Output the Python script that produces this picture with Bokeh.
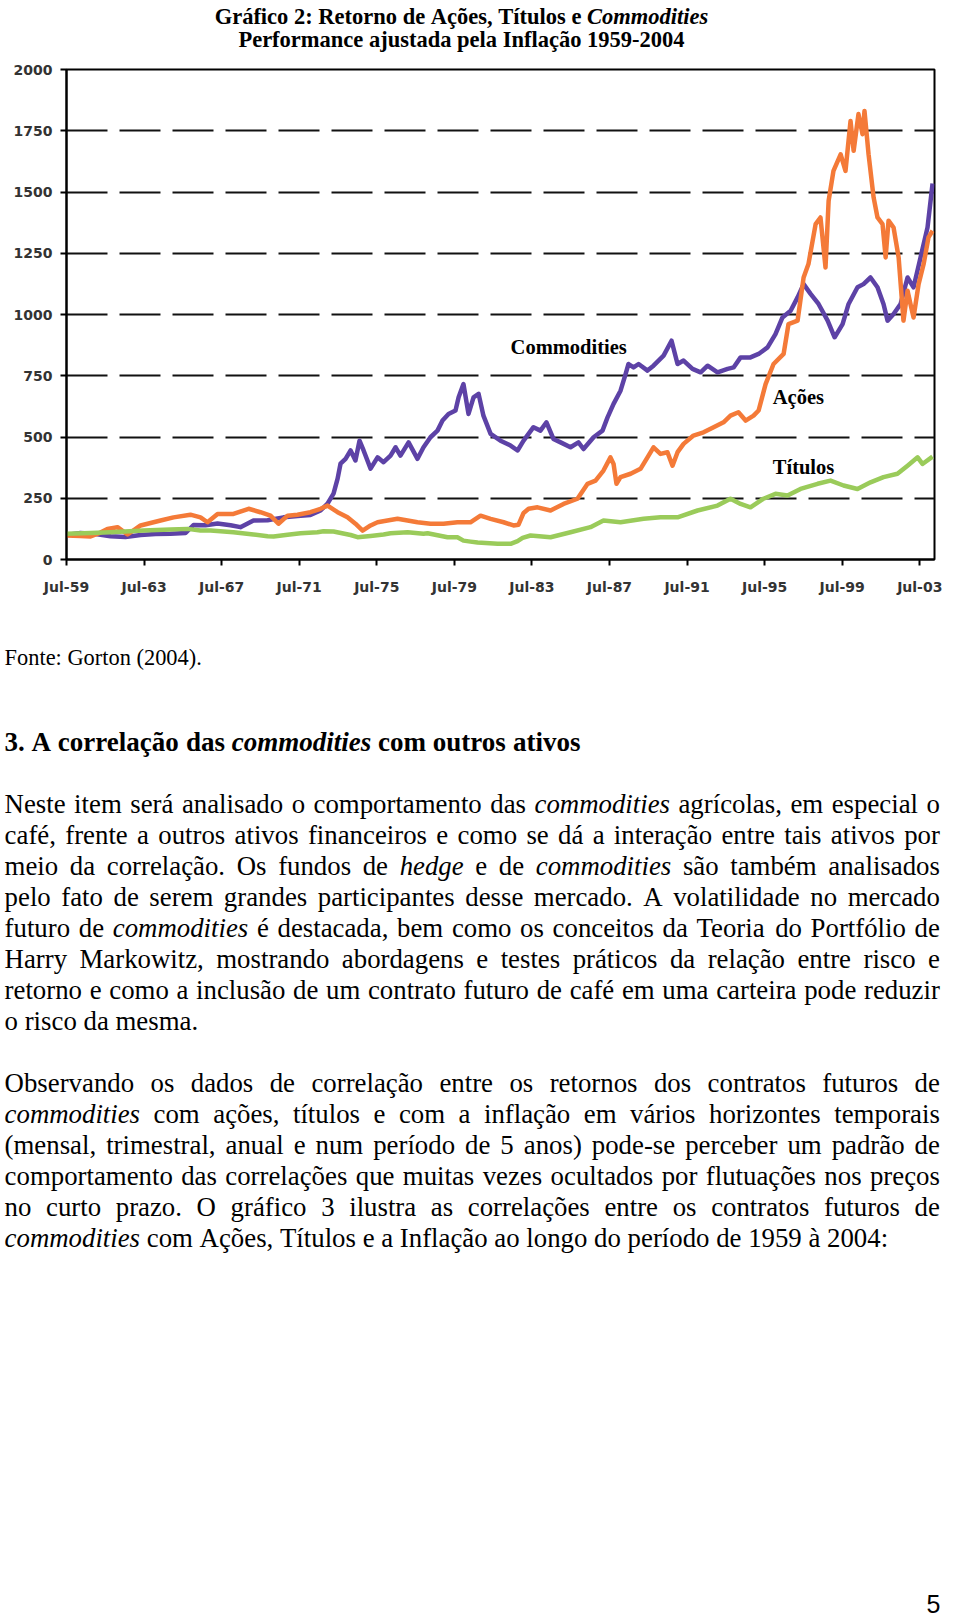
from bokeh.plotting import figure
from bokeh.models import Range1d, FixedTicker, ColumnDataSource
from bokeh.layouts import column
from bokeh.embed import file_html
from bokeh.resources import INLINE
from bokeh.core.properties import value

# ---------------- data ----------------
comm_years = [1959.50, 1960.22, 1961.00, 1961.77, 1962.54, 1963.32, 1964.09, 1964.86, 1965.64, 1966.05,
              1966.67, 1967.29, 1967.96, 1968.47, 1969.14, 1969.87, 1970.69, 1971.57, 1972.08, 1972.60,
              1972.96, 1973.27, 1973.48, 1973.63, 1973.89, 1974.15, 1974.40, 1974.61, 1974.82, 1975.18,
              1975.54, 1975.85, 1976.21, 1976.47, 1976.72, 1977.14, 1977.60, 1977.91, 1978.27, 1978.63,
              1978.89, 1979.20, 1979.56, 1979.72, 1979.97, 1980.23, 1980.49, 1980.75, 1981.00, 1981.37,
              1981.88, 1982.40, 1982.76, 1983.07, 1983.58, 1983.94, 1984.25, 1984.61, 1984.98, 1985.49,
              1985.90, 1986.16, 1986.68, 1987.14, 1987.40, 1987.71, 1988.07, 1988.33, 1988.48, 1988.74,
              1989.00, 1989.46, 1989.77, 1990.29, 1990.70, 1991.01, 1991.32, 1991.78, 1992.20, 1992.56,
              1993.07, 1993.59, 1993.90, 1994.26, 1994.77, 1995.19, 1995.65, 1996.06, 1996.42, 1996.84,
              1997.20, 1997.51, 1997.87, 1998.28, 1998.75, 1999.11, 1999.52, 1999.83, 2000.29, 2000.60,
              2000.96, 2001.32, 2001.63, 2001.84, 2002.15, 2002.51, 2002.87, 2003.18, 2003.54, 2003.90,
              2004.16]
comm_vals = [100, 108, 104, 95, 92, 100, 104, 105, 108, 141,
             140, 147, 140, 132, 159, 160, 172, 179, 182, 200,
             228, 269, 330, 391, 411, 445, 404, 485, 445, 371,
             417, 397, 424, 458, 424, 478, 411, 458, 499, 526,
             567, 594, 608, 662, 716, 594, 662, 676, 587, 513,
             485, 465, 445, 485, 540, 526, 560, 492, 478, 458,
             478, 451, 499, 526, 580, 635, 689, 757, 798, 784,
             798, 771, 791, 832, 893, 798, 812, 778, 764, 791,
             764, 778, 784, 825, 825, 839, 866, 920, 988, 1015,
             1070, 1124, 1084, 1043, 975, 907, 961, 1043, 1111, 1124,
             1151, 1111, 1043, 975, 1002, 1043, 1151, 1111, 1233, 1355,
             1535]

stock_years = [1959.50, 1960.22, 1960.74, 1961.25, 1961.61, 1962.13, 1962.65, 1963.32, 1964.35, 1965.02,
               1965.89, 1966.41, 1966.77, 1967.29, 1968.11, 1968.89, 1969.50, 1970.02, 1970.43, 1970.90,
               1971.41, 1972.08, 1972.60, 1972.96, 1973.48, 1973.99, 1974.40, 1974.77, 1975.18, 1975.54,
               1976.05, 1976.57, 1977.09, 1977.60, 1978.27, 1978.94, 1979.66, 1980.33, 1980.85, 1981.37,
               1982.04, 1982.55, 1982.81, 1983.07, 1983.33, 1983.79, 1984.46, 1985.13, 1985.85, 1986.37,
               1986.78, 1987.19, 1987.55, 1987.71, 1987.86, 1988.07, 1988.59, 1989.10, 1989.46, 1989.77,
               1990.13, 1990.49, 1990.75, 1991.01, 1991.32, 1991.83, 1992.35, 1992.87, 1993.38, 1993.74,
               1994.15, 1994.52, 1994.93, 1995.19, 1995.55, 1995.96, 1996.48, 1996.73, 1997.20, 1997.51,
               1997.76, 1998.13, 1998.38, 1998.64, 1998.80, 1999.05, 1999.42, 1999.67, 1999.93, 2000.09,
               2000.34, 2000.55, 2000.65, 2000.86, 2001.12, 2001.32, 2001.58, 2001.74, 2001.89, 2002.15,
               2002.41, 2002.66, 2002.87, 2003.02, 2003.18, 2003.44, 2003.70, 2003.95, 2004.16]
stock_vals = [98, 96, 94, 110, 125, 132, 102, 139, 159, 172,
              183, 172, 152, 186, 186, 207, 193, 179, 146, 179,
              183, 193, 207, 220, 193, 172, 146, 118, 139, 152,
              159, 166, 159, 152, 146, 146, 152, 152, 179, 166,
              152, 139, 142, 190, 207, 213, 200, 227, 248, 309,
              322, 363, 417, 390, 309, 336, 350, 370, 417, 458,
              431, 438, 383, 438, 472, 506, 519, 540, 560, 587,
              601, 567, 587, 608, 716, 798, 839, 961, 975, 1151,
              1206, 1369, 1396, 1192, 1464, 1586, 1654, 1586, 1790, 1668,
              1818, 1736, 1831, 1654, 1478, 1396, 1369, 1233, 1383, 1355,
              1233, 975, 1097, 1043, 988, 1124, 1206, 1315, 1342]

bond_years = [1959.50, 1960.74, 1961.77, 1963.47, 1964.86, 1965.74, 1966.41, 1966.93, 1968.11, 1969.14,
              1969.87, 1970.18, 1970.90, 1971.57, 1972.44, 1972.75, 1973.27, 1974.15, 1974.51, 1975.18,
              1975.85, 1976.21, 1977.09, 1977.91, 1978.12, 1979.15, 1979.66, 1979.97, 1980.33, 1980.70,
              1981.73, 1982.40, 1982.76, 1983.02, 1983.43, 1984.46, 1985.49, 1986.52, 1987.19, 1988.07,
              1989.26, 1990.13, 1991.01, 1992.04, 1993.07, 1993.74, 1994.26, 1994.77, 1995.44, 1996.06,
              1996.68, 1997.35, 1998.23, 1998.90, 1999.57, 2000.29, 2000.96, 2001.63, 2002.35, 2002.87,
              2003.39, 2003.64, 2004.16]
bond_vals = [105, 108, 111, 118, 122, 125, 118, 118, 111, 102,
             95, 94, 101, 107, 111, 115, 114, 100, 91, 96,
             102, 107, 111, 105, 107, 91, 91, 77, 73, 69,
             64, 64, 75, 88, 98, 91, 111, 132, 159, 152,
             166, 172, 172, 200, 220, 248, 227, 213, 248, 268,
             261, 288, 309, 322, 302, 288, 315, 336, 350, 383,
             417, 390, 420]

tick_years = [1959.5, 1963.5, 1967.5, 1971.5, 1975.5, 1979.5, 1983.5, 1987.5, 1991.5, 1995.5, 1999.5, 2003.5]
tick_labels = ["Jul-59", "Jul-63", "Jul-67", "Jul-71", "Jul-75", "Jul-79",
               "Jul-83", "Jul-87", "Jul-91", "Jul-95", "Jul-99", "Jul-03"]
y_ticks = [0, 250, 500, 750, 1000, 1250, 1500, 1750, 2000]
series_names = ["Commodities", "Ações", "Títulos"]

# ---------------- texts ----------------
title_lines = ["Gráfico 2: Retorno de Ações, Títulos e _Commodities_",
               "Performance ajustada pela Inflação 1959-2004"]
source_note = "Fonte: Gorton (2004)."
heading = "3. A correlação das _commodities_ com outros ativos"
para1 = [
    "Neste item será analisado o comportamento das _commodities_ agrícolas, em especial o",
    "café, frente a outros ativos financeiros e como se dá a interação entre tais ativos por",
    "meio da correlação. Os fundos de _hedge_ e de _commodities_ são também analisados",
    "pelo fato de serem grandes participantes desse mercado. A volatilidade no mercado",
    "futuro de _commodities_ é destacada, bem como os conceitos da Teoria do Portfólio de",
    "Harry Markowitz, mostrando abordagens e testes práticos da relação entre risco e",
    "retorno e como a inclusão de um contrato futuro de café em uma carteira pode reduzir",
    "o risco da mesma.",
]
para2 = [
    "Observando os dados de correlação entre os retornos dos contratos futuros de",
    "_commodities_ com ações, títulos e com a inflação em vários horizontes temporais",
    "(mensal, trimestral, anual e num período de 5 anos) pode-se perceber um padrão de",
    "comportamento das correlações que muitas vezes ocultados por flutuações nos preços",
    "no curto prazo. O gráfico 3 ilustra as correlações entre os contratos futuros de",
    "_commodities_ com Ações, Títulos e a Inflação ao longo do período de 1959 à 2004:",
]
page_number = "5"

# ---------------- styling ----------------
PURPLE = "#5D42A6"
ORANGE = "#F47A38"
GREEN = "#9ACB5A"
SERIF = "Liberation Serif"
W = 960

# Times-compatible advance widths (per 1000 em) used to justify lines
LOW = "abcdefghijklmnopqrstuvwxyz"
UP = "ABCDEFGHIJKLMNOPQRSTUVWXYZ"


def _table(lw, uw, colon):
    d = {c: w for c, w in zip(LOW, lw)}
    d.update({c: w for c, w in zip(UP, uw)})
    d.update({" ": 250, ",": 250, ".": 250, "-": 333, "(": 333, ")": 333, ":": colon, ";": colon})
    d.update({str(i): 500 for i in range(10)})
    return d


ROMAN = _table([444, 500, 444, 500, 444, 333, 500, 500, 278, 278, 500, 278, 778, 500, 500, 500, 500, 333, 389, 278, 500, 500, 722, 500, 500, 444],
               [722, 667, 667, 722, 611, 556, 722, 722, 333, 389, 722, 611, 889, 722, 722, 556, 722, 667, 556, 611, 722, 722, 944, 722, 722, 611], 278)
ITALIC = _table([500, 500, 444, 500, 444, 278, 500, 500, 278, 278, 444, 278, 722, 500, 500, 500, 500, 389, 389, 278, 500, 444, 667, 444, 444, 389],
                [611, 611, 667, 722, 611, 611, 722, 722, 333, 444, 667, 556, 833, 667, 722, 611, 722, 611, 500, 556, 722, 611, 833, 611, 556, 556], 333)
BOLD = _table([500, 556, 444, 556, 444, 333, 500, 556, 278, 333, 556, 278, 833, 556, 500, 556, 556, 444, 389, 333, 556, 500, 722, 500, 500, 444],
              [722, 667, 722, 722, 667, 611, 778, 778, 389, 500, 778, 667, 944, 722, 778, 611, 778, 722, 556, 667, 722, 722, 1000, 722, 722, 667], 333)
BOLDITAL = _table([500, 500, 444, 500, 444, 333, 500, 556, 278, 278, 500, 278, 778, 556, 500, 500, 500, 389, 389, 278, 556, 444, 667, 500, 444, 389],
                  [667, 667, 667, 722, 667, 667, 722, 778, 389, 500, 667, 611, 889, 722, 722, 611, 722, 667, 556, 611, 722, 667, 889, 667, 611, 611], 333)
ACC = {"á": "a", "à": "a", "ã": "a", "â": "a", "é": "e", "ê": "e", "í": "i", "ó": "o", "õ": "o",
       "ô": "o", "ú": "u", "ç": "c", "Á": "A", "Ç": "C", "É": "E", "Í": "I", "Ó": "O", "Ú": "U"}


def tw(s, table, size):
    return sum(table.get(ACC.get(c, c), 500) for c in s) * size / 1000.0


def layout_line(line, x0, y, size, tables, width=None, center=None):
    words, cur, buf, ital = [], [], "", False
    for ch in line:
        if ch == "_":
            if buf:
                cur.append((buf, ital))
                buf = ""
            ital = not ital
        elif ch == " ":
            if buf:
                cur.append((buf, ital))
                buf = ""
            if cur:
                words.append(cur)
                cur = []
        else:
            buf += ch
    if buf:
        cur.append((buf, ital))
    if cur:
        words.append(cur)
    ww = [sum(tw(t, tables[i], size) for t, i in w) for w in words]
    space = 250 * size / 1000.0
    if width is not None and len(words) > 1:
        gap = (width - sum(ww)) / (len(words) - 1)
    else:
        gap = space
    if center is not None:
        x0 = center - (sum(ww) + space * (len(words) - 1)) / 2.0
    out = []
    x = x0
    for w in words:
        for t, i in w:
            out.append((x, y, t, i))
            x += tw(t, tables[i], size)
        x += gap
    return out


def no_align(f):
    try:
        f.frame_align = False
    except Exception:
        pass


def text_fig(h):
    f = figure(width=W, height=h, x_range=Range1d(0, W), y_range=Range1d(h, 0),
               x_axis_type=None, y_axis_type=None, toolbar_location=None, tools="",
               output_backend="svg", min_border=0, min_border_left=0, min_border_right=0,
               min_border_top=0, min_border_bottom=0, outline_line_color=None)
    no_align(f)
    return f


def draw_runs(f, runs, size, upright_style, italic_style, font=SERIF, color="black"):
    for flag, style in ((False, upright_style), (True, italic_style)):
        sel = [r for r in runs if r[3] == flag]
        if not sel:
            continue
        src = ColumnDataSource(dict(x=[r[0] for r in sel], y=[r[1] for r in sel], t=[r[2] for r in sel]))
        f.text(x="x", y="y", text="t", source=src, text_font=value(font), text_font_size=size,
               text_font_style=style, text_align="left", text_baseline="alphabetic", text_color=color)


# ---------------- title block (page y 0-60) ----------------
ft = text_fig(60)
TSIZE = 22.5
truns = layout_line(title_lines[0], 0, 16, TSIZE, (BOLD, BOLDITAL), center=461)
truns += layout_line(title_lines[1], 0, 38.5, TSIZE, (BOLD, BOLDITAL), center=461)
draw_runs(ft, truns, "%.1fpx" % TSIZE, "bold", "bold italic")

# ---------------- chart (page y 60-610) ----------------
p = figure(width=W, height=550, x_range=Range1d(1959.5, 2004.26), y_range=Range1d(0, 2000),
           toolbar_location=None, tools="", output_backend="svg",
           min_border_left=66, min_border_right=26, min_border_top=9, min_border_bottom=51)
no_align(p)
p.background_fill_color = "white"
p.border_fill_color = "white"
p.outline_line_color = "black"
p.outline_line_width = 2

p.xaxis.ticker = FixedTicker(ticks=tick_years)
p.xaxis.major_label_overrides = {t: lab for t, lab in zip(tick_years, tick_labels)}
p.yaxis.ticker = FixedTicker(ticks=y_ticks)
for ax in (p.xaxis, p.yaxis):
    ax.axis_line_color = "black"
    ax.axis_line_width = 2
    ax.major_tick_line_color = "black"
    ax.major_tick_line_width = 2
    ax.major_tick_in = 0
    ax.major_tick_out = 6
    ax.minor_tick_line_color = None
    ax.major_label_text_font = "DejaVu Sans"
    ax.major_label_text_font_style = "bold"
    ax.major_label_text_font_size = "14px"
    ax.major_label_text_color = "#333333"
p.xaxis.major_label_standoff = 13
p.yaxis.major_label_standoff = 8

p.xgrid.visible = False
p.ygrid.grid_line_color = "#111111"
p.ygrid.grid_line_width = 2
p.ygrid.grid_line_dash = "41 12"

p.line(comm_years, comm_vals, line_color=PURPLE, line_width=4.5, line_join="round")
p.line(stock_years, stock_vals, line_color=ORANGE, line_width=4.5, line_join="round")
p.line(bond_years, bond_vals, line_color=GREEN, line_width=4.5, line_join="round")

label_src = ColumnDataSource(dict(x=[1982.40, 1995.92, 1995.92], y=[869, 662, 379], t=series_names))
p.text(x="x", y="y", text="t", source=label_src, text_font=value(SERIF), text_font_style="bold",
       text_font_size="20.5px", text_align="left", text_baseline="middle", text_color="black")

# ---------------- body text (page y 610-1617) ----------------
fb = text_fig(1007)
BODY = 26.8
LINE_W = 935.3
PITCH = 30.9
X0 = 4.1

draw_runs(fb, layout_line(source_note, X0, 46.5, 22.4, (ROMAN, ITALIC)), "22.4px", "normal", "italic")
draw_runs(fb, layout_line(heading, X0, 131.5, 27, (BOLD, BOLDITAL)), "27px", "bold", "bold italic")

body_runs = []
for k, line in enumerate(para1):
    last = k == len(para1) - 1
    body_runs += layout_line(line, X0, 193.8 + PITCH * k, BODY, (ROMAN, ITALIC), width=None if last else LINE_W)
for k, line in enumerate(para2):
    last = k == len(para2) - 1
    body_runs += layout_line(line, X0, 472.5 + PITCH * k, BODY, (ROMAN, ITALIC), width=None if last else LINE_W)
draw_runs(fb, body_runs, "%.1fpx" % BODY, "normal", "italic")

pn = ColumnDataSource(dict(x=[940], y=[993], t=[page_number]))
fb.text(x="x", y="y", text="t", source=pn, text_font=value("Liberation Sans"), text_font_size="25px",
        text_align="right", text_baseline="alphabetic", text_color="black")

layout = column(ft, p, fb, spacing=0)
open("out.html", "w").write(file_html(layout, INLINE))
